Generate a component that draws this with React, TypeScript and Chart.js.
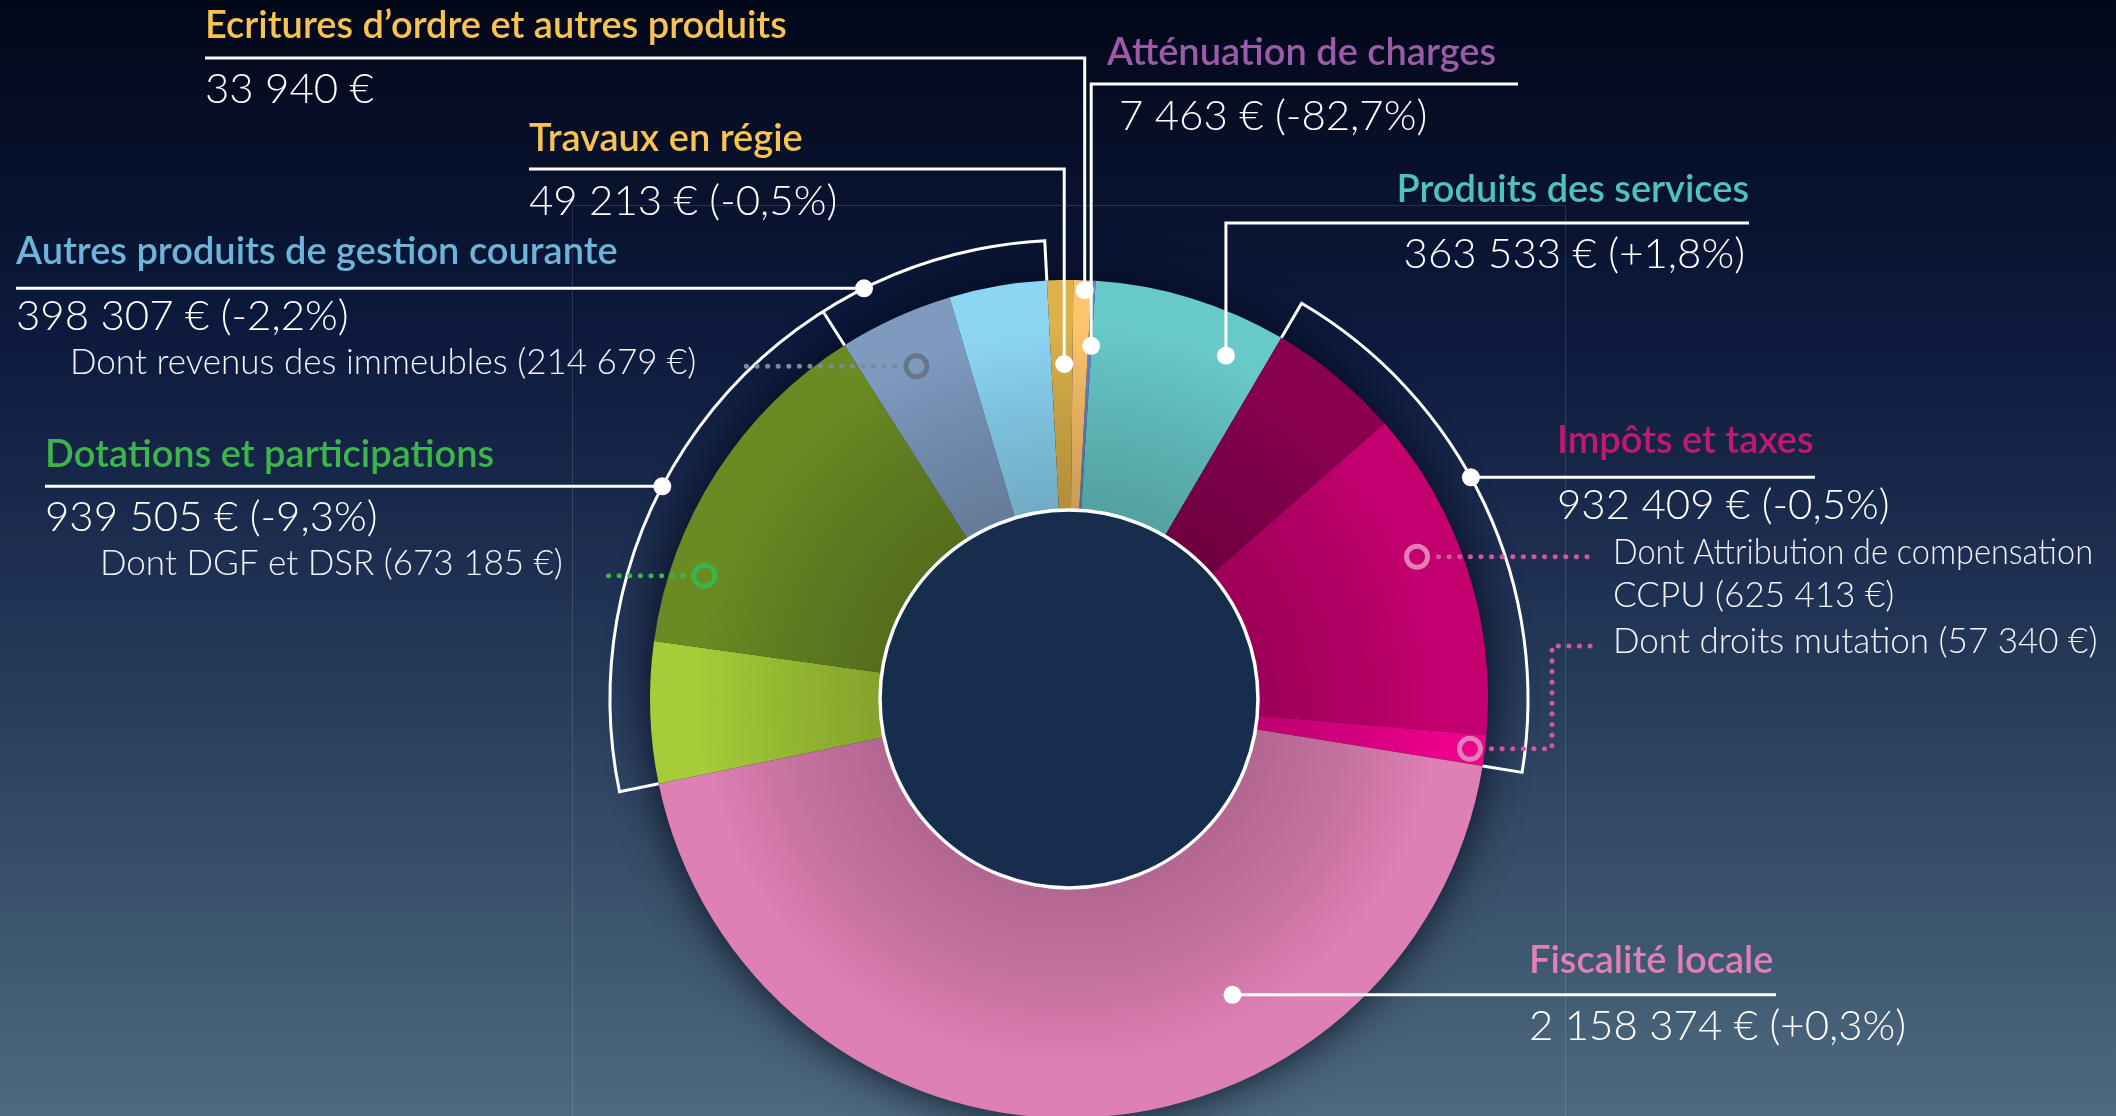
import React, { useEffect, useRef } from 'react';
import { Chart, registerables } from 'chart.js';

Chart.register(...registerables);

// ---------- DATA ----------
const categories = [
  'Atténuation de charges',
  'Produits des services',
  'Impôts et taxes',
  'Fiscalité locale',
  'Dotations et participations',
  'Autres produits de gestion courante',
  'Travaux en régie',
  'Ecritures d’ordre et autres produits',
];
const totals = [7463, 363533, 932409, 2158374, 939505, 398307, 49213, 33940];
const changes = ['-82,7%', '+1,8%', '-0,5%', '+0,3%', '-9,3%', '-2,2%', '-0,5%', ''];

const subLabels = [
  'Dont Attribution de compensation\nCCPU',
  'Dont droits mutation',
  'Dont DGF et DSR',
  'Dont revenus des immeubles',
];
const subValues = [625413, 57340, 673185, 214679];
const subGroup = [2, 2, 4, 5];
const restFirst = [true, true, true, true, true, false, true, true];

// ---------- STYLE ----------
const titleColors = ['#9d5aa8', '#4ec3bd', '#c2186f', '#e27fb4', '#3db54a', '#6db5d8', '#f8c352', '#f8c352'];
const segmentColors = [
  '#6b82c6', '#68c9c9', '#8a0050', '#c4006f', '#ec008c', '#de80b4',
  '#a6cc38', '#6a8a24', '#7e9abf', '#8cd6f4', '#dcb24a', '#fcc46c',
];

const FONT = 'Lato, "Open Sans", sans-serif';
const TITLE_FONT = `600 38px ${FONT}`;
const VALUE_FONT = `300 42px ${FONT}`;
const SUB_FONT = `300 35px ${FONT}`;

// build segments
const segValues: number[] = [];
const segGroup: number[] = [];
const segSub: number[] = [];
categories.forEach((_, i) => {
  const subs = subGroup.map((g, k) => (g === i ? k : -1)).filter((k) => k >= 0);
  if (!subs.length) {
    segValues.push(totals[i]); segGroup.push(i); segSub.push(-1);
    return;
  }
  const rest = totals[i] - subs.reduce((s, k) => s + subValues[k], 0);
  const pushRest = () => { segValues.push(rest); segGroup.push(i); segSub.push(-1); };
  if (restFirst[i]) pushRest();
  subs.forEach((k) => { segValues.push(subValues[k]); segGroup.push(i); segSub.push(k); });
  if (!restFirst[i]) pushRest();
});

// label layout (positions in px, dot anchors relative to slice geometry)
type LabelLayout = {
  tx: number; ty: number; vx: number; vy: number; align: CanvasTextAlign;
  lineY?: number; lineEnd: number; t: number; rf?: number; bracket?: boolean;
};
const labelLayout: LabelLayout[] = [
  { tx: 1107, ty: 53, vx: 1119, vy: 116, align: 'left', lineY: 84, lineEnd: 1518, t: 0.9, rf: 0.717 },
  { tx: 1749, ty: 190, vx: 1745, vy: 254, align: 'right', lineY: 223, lineEnd: 1749, t: 0.78, rf: 0.82 },
  { tx: 1557, ty: 441, vx: 1557, vy: 505, align: 'left', lineEnd: 1815, t: 0.446, bracket: true },
  { tx: 1529, ty: 961, vx: 1529, vy: 1026, align: 'left', lineEnd: 1776, t: 0.326, rf: 0.648 },
  { tx: 45, ty: 455, vx: 45, vy: 517, align: 'left', lineEnd: 45, t: 0.567, bracket: true },
  { tx: 16, ty: 252, vx: 16, vy: 316, align: 'left', lineEnd: 16, t: 0.2, bracket: true },
  { tx: 529, ty: 139, vx: 529, vy: 201, align: 'left', lineY: 169, lineEnd: 529, t: 0.61, rf: 0.635 },
  { tx: 205, ty: 26, vx: 205, vy: 89, align: 'left', lineY: 58, lineEnd: 205, t: 0.64, rf: 0.957 },
];

type SubLayout = {
  x: number; y: number[]; t: number; rf: number; color: string; ring: string;
  lineTo: number; side: 'left' | 'right'; elbowX?: number; maxW: number;
};
const subLayout: SubLayout[] = [
  { x: 1613, y: [553, 596], t: 0.41, rf: 0.813, color: '#d4559e', ring: '#e27fb8', lineTo: 1592, side: 'right', maxW: 480 },
  { x: 1613, y: [642], t: 0.5, rf: 0.935, color: '#d4559e', ring: '#e27fb8', lineTo: 1592, side: 'right', elbowX: 1552, maxW: 490 },
  { x: 100, y: [564], t: 0.216, rf: 0.852, color: '#3cb44a', ring: '#3cb44a', lineTo: 602, side: 'left', maxW: 490 },
  { x: 70, y: [363], t: 0.49, rf: 0.77, color: '#7a8a9c', ring: '#66768a', lineTo: 738, side: 'left', maxW: 660 },
];

const BRACKET_GAP = 40;
const CUTOUT = '45.1%';

const fmt = (v: number) => String(v).replace(/\B(?=(\d{3})+(?!\d))/g, ' ');

function shade(hex: string, amt: number) {
  const n = parseInt(hex.slice(1), 16);
  let r = (n >> 16) & 255, g = (n >> 8) & 255, b = n & 255;
  const f = (c: number) => Math.round(amt < 0 ? c * (1 + amt) : c + (255 - c) * amt);
  r = f(r); g = f(g); b = f(b);
  return `rgb(${r},${g},${b})`;
}

function geom(chart: any) {
  const meta = chart.getDatasetMeta(0);
  return meta.data.map((a: any) =>
    a.getProps(['x', 'y', 'startAngle', 'endAngle', 'innerRadius', 'outerRadius'], true)
  );
}

const overlay = {
  id: 'overlay',
  beforeDraw(chart: any) {
    const { ctx, width, height } = chart;
    ctx.save();
    const g = ctx.createLinearGradient(0, 0, 0, height);
    g.addColorStop(0, '#030819');
    g.addColorStop(0.3, '#0d1a3e');
    g.addColorStop(0.6, '#263a5a');
    g.addColorStop(1, '#4f6b80');
    ctx.fillStyle = g;
    ctx.fillRect(0, 0, width, height);
    ctx.strokeStyle = 'rgba(255,255,255,0.13)';
    ctx.lineWidth = 1;
    ctx.beginPath();
    ctx.moveTo(572.5, height); ctx.lineTo(572.5, 205.5); ctx.lineTo(1565.5, 205.5); ctx.lineTo(1565.5, height);
    ctx.stroke();
    ctx.restore();
  },
  beforeDatasetsDraw(chart: any) {
    const arcs = geom(chart);
    if (!arcs.length) return;
    const { ctx } = chart;
    const a = arcs[0];
    ctx.save();
    ctx.shadowColor = 'rgba(0,4,20,0.9)';
    ctx.shadowBlur = 45;
    ctx.fillStyle = '#0a1430';
    ctx.beginPath();
    ctx.arc(a.x, a.y, a.outerRadius - 2, 0, Math.PI * 2);
    ctx.fill();
    ctx.restore();
  },
  afterDatasetsDraw(chart: any) {
    const arcs = geom(chart);
    if (!arcs.length) return;
    const { ctx } = chart;
    const cx = arcs[0].x, cy = arcs[0].y;
    const outer = arcs[0].outerRadius, inner = arcs[0].innerRadius;
    const Rb = outer + BRACKET_GAP;
    const pt = (ang: number, r: number) => ({ x: cx + r * Math.cos(ang), y: cy + r * Math.sin(ang) });

    const gStart: number[] = [], gEnd: number[] = [];
    segGroup.forEach((g, i) => {
      if (gStart[g] === undefined) gStart[g] = arcs[i].startAngle;
      gEnd[g] = arcs[i].endAngle;
    });

    ctx.save();
    // inner disk
    ctx.beginPath();
    ctx.arc(cx, cy, inner, 0, Math.PI * 2);
    ctx.fillStyle = '#172d4e';
    ctx.fill();
    ctx.lineWidth = 3.5;
    ctx.strokeStyle = '#ffffff';
    ctx.stroke();

    ctx.strokeStyle = '#ffffff';
    ctx.lineWidth = 3;
    ctx.lineJoin = 'miter';
    const bracket = (a0: number, a1: number, ticks: number[]) => {
      const p0 = pt(a0, outer), p1 = pt(a0, Rb), p3 = pt(a1, outer);
      ctx.beginPath();
      ctx.moveTo(p0.x, p0.y);
      ctx.lineTo(p1.x, p1.y);
      ctx.arc(cx, cy, Rb, a0, a1);
      ctx.lineTo(p3.x, p3.y);
      ctx.stroke();
      ticks.forEach((a) => {
        const q0 = pt(a, outer), q1 = pt(a, Rb);
        ctx.beginPath(); ctx.moveTo(q0.x, q0.y); ctx.lineTo(q1.x, q1.y); ctx.stroke();
      });
    };
    bracket(gStart[2], gEnd[2], []);
    bracket(gStart[4], gEnd[5], [gEnd[4]]);

    // main labels
    labelLayout.forEach((L, i) => {
      const ang = gStart[i] + L.t * (gEnd[i] - gStart[i]);
      const r = L.bracket ? Rb : inner + (L.rf as number) * (outer - inner);
      const d = pt(ang, r);
      ctx.strokeStyle = '#ffffff';
      ctx.lineWidth = 3;
      ctx.beginPath();
      ctx.moveTo(d.x, d.y);
      if (L.lineY !== undefined) {
        ctx.lineTo(d.x, L.lineY);
        ctx.lineTo(L.lineEnd, L.lineY);
      } else {
        ctx.lineTo(L.lineEnd, d.y);
      }
      ctx.stroke();
      ctx.fillStyle = '#ffffff';
      ctx.beginPath();
      ctx.arc(d.x, d.y, 9, 0, Math.PI * 2);
      ctx.fill();

      ctx.textBaseline = 'middle';
      ctx.textAlign = L.align;
      ctx.font = TITLE_FONT;
      ctx.fillStyle = titleColors[i];
      ctx.fillText(categories[i], L.tx, L.ty);
      ctx.font = VALUE_FONT;
      ctx.fillStyle = '#ffffff';
      const val = `${fmt(totals[i])} €` + (changes[i] ? ` (${changes[i]})` : '');
      ctx.fillText(val, L.vx, L.vy);
    });

    // sub labels
    subLayout.forEach((S, k) => {
      const si = segSub.indexOf(k);
      const a = arcs[si];
      const ang = a.startAngle + S.t * (a.endAngle - a.startAngle);
      const c = pt(ang, inner + S.rf * (outer - inner));
      const ringR = 10.5;
      ctx.save();
      ctx.strokeStyle = S.color;
      ctx.lineWidth = 5;
      ctx.lineCap = 'round';
      ctx.setLineDash([0.1, 10.5]);
      ctx.beginPath();
      if (S.side === 'left') {
        ctx.moveTo(c.x - ringR - 11, c.y);
        ctx.lineTo(S.lineTo, c.y);
      } else if (S.elbowX !== undefined) {
        ctx.moveTo(c.x + ringR + 11, c.y);
        ctx.lineTo(S.elbowX, c.y);
        ctx.lineTo(S.elbowX, S.y[0] + 4);
        ctx.lineTo(S.lineTo, S.y[0] + 4);
      } else {
        ctx.moveTo(c.x + ringR + 11, c.y);
        ctx.lineTo(S.lineTo, c.y);
      }
      ctx.stroke();
      ctx.restore();
      ctx.save();
      ctx.strokeStyle = S.ring;
      ctx.lineWidth = 5;
      ctx.beginPath();
      ctx.arc(c.x, c.y, ringR, 0, Math.PI * 2);
      ctx.stroke();
      ctx.restore();

      ctx.font = SUB_FONT;
      ctx.fillStyle = '#f4f4f8';
      ctx.textAlign = 'left';
      ctx.textBaseline = 'middle';
      const lines = `${subLabels[k]} (${fmt(subValues[k])} €)`.split('\n');
      lines.forEach((ln, j) => ctx.fillText(ln, S.x, S.y[j], S.maxW));
    });
    ctx.restore();
  },
};

export default function App() {
  const ref = useRef<HTMLCanvasElement>(null);
  useEffect(() => {
    document.body.style.margin = '0';
    const canvas = ref.current!;
    const chart = new Chart(canvas, {
      type: 'doughnut',
      data: {
        labels: segValues.map((_, i) => categories[segGroup[i]]),
        datasets: [
          {
            data: segValues,
            borderWidth: 0,
            backgroundColor: (c: any) => {
              const base = segmentColors[c.dataIndex];
              const area = c.chart.chartArea;
              if (!area) return base;
              const x = (area.left + area.right) / 2;
              const y = (area.top + area.bottom) / 2;
              const R = Math.min(area.right - area.left, area.bottom - area.top) / 2;
              const r0 = R * 0.451;
              const g = c.chart.ctx.createRadialGradient(x, y, r0, x, y, R);
              g.addColorStop(0, shade(base, -0.2));
              g.addColorStop(0.45, shade(base, -0.1));
              g.addColorStop(0.8, base);
              g.addColorStop(1, base);
              return g;
            },
          },
        ],
      },
      options: {
        responsive: false,
        maintainAspectRatio: false,
        animation: false,
        devicePixelRatio: 1,
        rotation: 3.1,
        cutout: CUTOUT,
        events: [],
        layout: { padding: { top: 280, bottom: 12, left: 650, right: 628 } },
        plugins: { legend: { display: false }, tooltip: { enabled: false } },
      },
      plugins: [overlay],
    });
    return () => chart.destroy();
  }, []);
  return (
    <div style={{ position: 'fixed', left: 0, top: 0, width: 2116, height: 1116, overflow: 'hidden' }}>
      <canvas ref={ref} width={2116} height={1130} style={{ display: 'block' }} />
    </div>
  );
}
